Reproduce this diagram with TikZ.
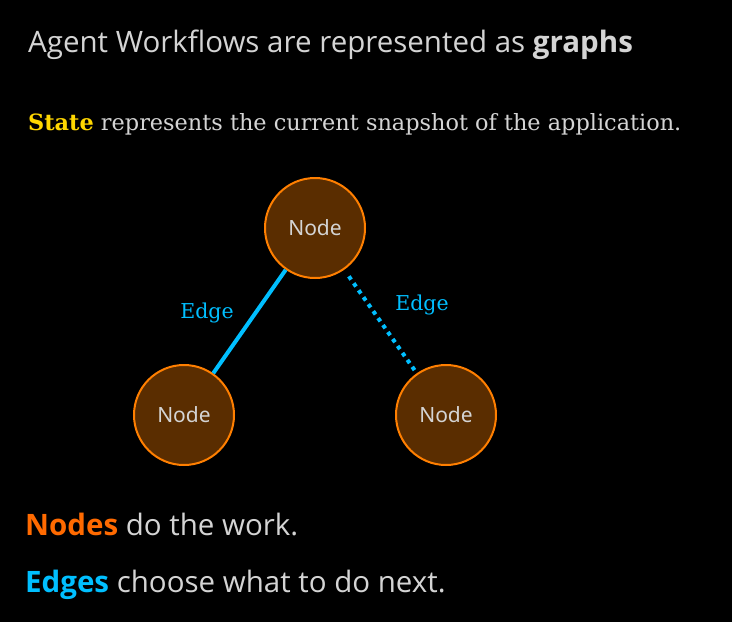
\documentclass[tikz,border=0pt]{standalone}
\usepackage{fontspec}
\setmainfont{Open Sans}
\newfontfamily\slabfont{DejaVu Serif}
\newfontfamily\labelfont{Noto Sans}
\definecolor{bg}{HTML}{000000}
\definecolor{txt}{HTML}{D4D4D4}
\definecolor{stategold}{HTML}{FFD700}
\definecolor{nodefill}{HTML}{5A2D00}
\definecolor{nodeline}{HTML}{FF7F00}
\definecolor{nodeword}{HTML}{FF6A00}
\definecolor{edgeblue}{HTML}{00BFFF}
\tikzset{
  graphnode/.style={circle, draw=nodeline, fill=nodefill, line width=2pt,
    minimum size=100pt, inner sep=0pt, text=txt,
    font=\labelfont\fontsize{21}{24}\selectfont},
  edgeline/.style={draw=edgeblue, line width=4pt},
  edgedots/.style={draw=edgeblue, line width=4pt, dash pattern=on 4pt off 4.5pt},
  edgelabel/.style={text=edgeblue, font=\slabfont\fontsize{20.5}{24}\selectfont},
  bodytext/.style={anchor=base west, inner sep=0pt, text=txt},
}
\begin{document}
\begin{tikzpicture}[x=1pt, y=-1pt]
  \fill[bg] (0,0) rectangle (732,622);
  \useasboundingbox (0,0) rectangle (732,622);

  % headings
  \node[bodytext, font=\fontsize{29.5}{36}\selectfont] (title) at (28,52)
    {Agent Workflows are represented as \textbf{graphs}};
  \node[bodytext, font=\slabfont\fontsize{22.4}{26}\selectfont] (state) at (28,130)
    {\textcolor{stategold}{\textbf{State}} represents the current snapshot of the application.};

  % graph
  \node[graphnode] (top) at (315,228) {Node};
  \node[graphnode] (left) at (184,415) {Node};
  \node[graphnode] (right) at (446,415) {Node};

  \draw[edgeline] (top) -- (left);
  \draw[edgedots, shorten <=8pt] (top) -- (right);

  \node[edgelabel] (lbl1) at (207,313) {Edge};
  \node[edgelabel] (lbl2) at (422,305) {Edge};

  % footer lines
  \node[bodytext, font=\fontsize{29.5}{36}\selectfont] (nodesline) at (25,535)
    {\textcolor{nodeword}{\textbf{Nodes}} do the work.};
  \node[bodytext, font=\fontsize{29.5}{36}\selectfont] (edgesline) at (25,592)
    {\textcolor{edgeblue}{\textbf{Edges}} choose what to do next.};
\end{tikzpicture}
\end{document}
